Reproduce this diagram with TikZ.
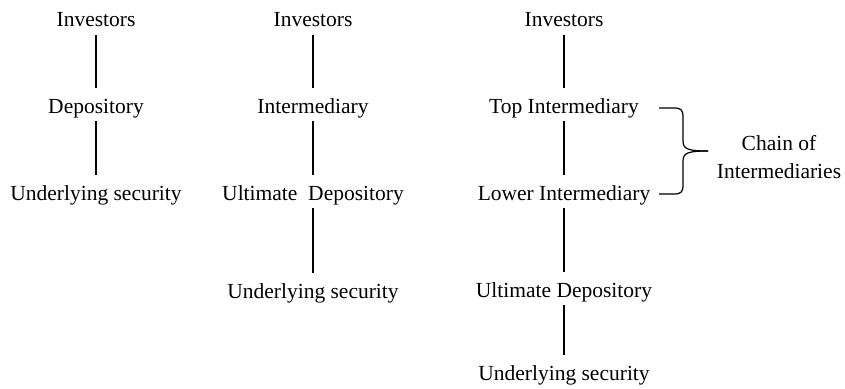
\documentclass[tikz,border=0pt]{standalone}
\usepackage{fontspec}
\setmainfont{Liberation Serif}
\usepackage{tikz}
\usetikzlibrary{positioning}

\begin{document}
\begin{tikzpicture}[x=1pt, y=-1pt,
		lbl/.style={font=\fontsize{21.5}{28}\selectfont, inner sep=0pt, text height=14pt, text depth=5pt, anchor=base},
		link/.style={line width=1.4pt, shorten <=3pt, shorten >=11pt}]
			\useasboundingbox (0,0) rectangle (845,388);
			% Paths, nodes and wires:
			\node[lbl](inv1) at (96, 27){Investors};
			\node[lbl](dep1) at (96, 113){Depository};
			\node[lbl](sec1) at (96, 200){Underlying security};
			\draw[link] (inv1) -- (dep1);
			\draw[link] (dep1) -- (sec1);
			\node[lbl](inv2) at (313, 27){Investors};
			\node[lbl](int2) at (313, 113){Intermediary};
			\node[lbl](ult2) at (313, 200){Ultimate\ \ Depository};
			\node[lbl](sec2) at (313, 298){Underlying security};
			\draw[link] (inv2) -- (int2);
			\draw[link] (int2) -- (ult2);
			\draw[link] (ult2) -- (sec2);
			\node[lbl](inv3) at (564, 27){Investors};
			\node[lbl](top3) at (564, 113){Top Intermediary};
			\node[lbl](low3) at (564, 200){Lower Intermediary};
			\node[lbl](ult3) at (564, 297){Ultimate Depository};
			\node[lbl](sec3) at (564, 380){Underlying security};
			\draw[link] (inv3) -- (top3);
			\draw[link] (top3) -- (low3);
			\draw[link] (low3) -- (ult3);
			\draw[link] (ult3) -- (sec3);
			% Brace and its label:
			\coordinate (B1) at (659, 108);
			\coordinate (B2) at (659, 194);
			\coordinate (tip) at (708, 151);
			\draw[line width=1.2pt] (B1) -- (674, 108) .. controls (681, 108) and (683, 110) .. (683, 117) -- (683, 141) .. controls (683, 149) and (688, 151) .. (tip);
			\draw[line width=1.2pt] (tip) .. controls (688, 151) and (683, 153) .. (683, 161) -- (683, 185) .. controls (683, 192) and (681, 194) .. (674, 194) -- (B2);
			\node[font=\fontsize{21.5}{28}\selectfont, align=center, inner sep=0pt](chain) at (779, 157){Chain of\\Intermediaries};
\end{tikzpicture}
\end{document}
